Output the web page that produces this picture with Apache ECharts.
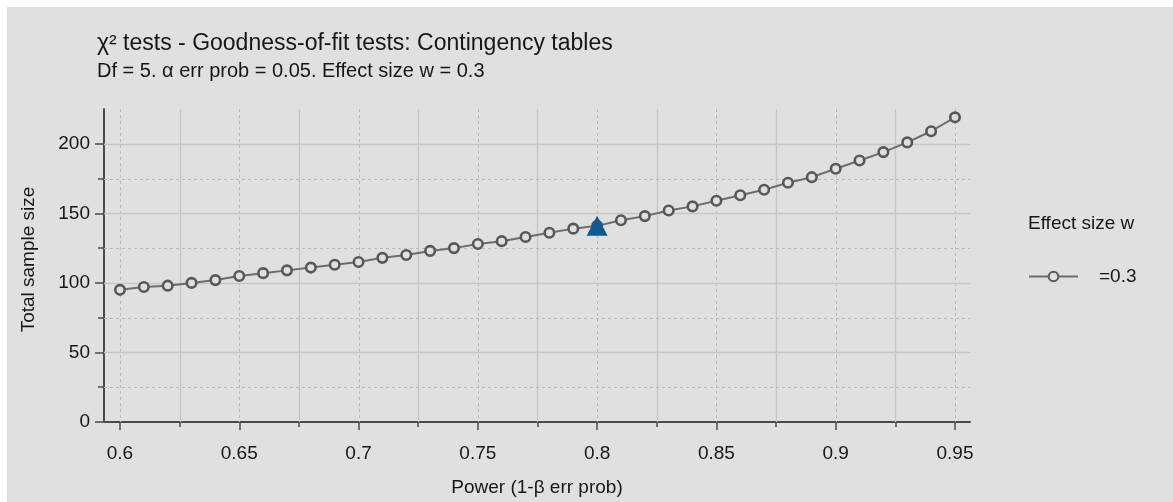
<!DOCTYPE html>
<html>
<head>
<meta charset="utf-8">
<script src="https://cdn.jsdelivr.net/npm/echarts@6/dist/echarts.min.js"></script>
<style>
  html, body { margin: 0; padding: 0; background: #ffffff; }
  #chart { position: absolute; left: 7px; top: 7px; width: 1166px; height: 495px; background: #e0e0e0; }
</style>
</head>
<body>
<div id="chart"></div>
<script>
// Power (1-β err prob) on the x axis, required total sample size on the y axis
const powerValues = [0.60, 0.61, 0.62, 0.63, 0.64, 0.65, 0.66, 0.67, 0.68, 0.69,
                     0.70, 0.71, 0.72, 0.73, 0.74, 0.75, 0.76, 0.77, 0.78, 0.79,
                     0.80, 0.81, 0.82, 0.83, 0.84, 0.85, 0.86, 0.87, 0.88, 0.89,
                     0.90, 0.91, 0.92, 0.93, 0.94, 0.95];
const sampleSizes = [95, 97, 98, 100, 102, 105, 107, 109, 111, 113,
                     115, 118, 120, 123, 125, 128, 130, 133, 136, 139,
                     141, 145, 148, 152, 155, 159, 163, 167, 172, 176,
                     182, 188, 194, 201, 209, 219];

// the selected design point
const selectedPower = [0.80];
const selectedSize = [141];

// axis ticks
const xMajorTicks = [0.6, 0.65, 0.7, 0.75, 0.8, 0.85, 0.9, 0.95];
const xMinorTicks = [0.625, 0.675, 0.725, 0.775, 0.825, 0.875, 0.925];
const yMajorTicks = [0, 50, 100, 150, 200];
const yMinorTicks = [25, 75, 125, 175];

const seriesName = '=0.3';
const legendTitle = 'Effect size w';
const chartTitle = 'χ² tests - Goodness-of-fit tests: Contingency tables';
const chartSubtitle = 'Df = 5. α err prob = 0.05. Effect size w = 0.3';

const FONT = 'Liberation Sans, Arial, sans-serif';
const TEXT_COLOR = '#161616';
const AXIS_COLOR = '#4a4a4a';
const GRID_SOLID = '#c6c6c6';
const GRID_DOTTED = '#b9b9b9';
const X_MIN = 0.5933, X_MAX = 0.9563;
const Y_MIN = 0, Y_MAX = 225;

const chart = echarts.init(document.getElementById('chart'), null, { renderer: 'canvas' });

// grid line items: [value, dotted?]
const verticalLines = xMajorTicks.map(v => [v, 1]).concat(xMinorTicks.map(v => [v, 0]));
const horizontalLines = yMajorTicks.filter(v => v > 0).map(v => [v, 0]).concat(yMinorTicks.map(v => [v, 1]));

function gridLineStyle(dotted) {
  return dotted
    ? { stroke: GRID_DOTTED, lineWidth: 1, lineDash: [3, 3] }
    : { stroke: GRID_SOLID, lineWidth: 1.3 };
}

const baseX = {
  type: 'value', position: 'bottom', min: X_MIN, max: X_MAX, splitLine: { show: false }
};
const baseY = {
  type: 'value', position: 'left', min: Y_MIN, max: Y_MAX, splitLine: { show: false }
};

chart.setOption({
  animation: false,
  textStyle: { fontFamily: FONT },
  title: [
    { text: chartTitle, left: 85, top: 20,
      textStyle: { fontFamily: FONT, fontSize: 23, fontWeight: 'normal', color: TEXT_COLOR } },
    { text: chartSubtitle, left: 85, top: 49,
      textStyle: { fontFamily: FONT, fontSize: 20, fontWeight: 'normal', color: TEXT_COLOR } },
    { text: legendTitle, left: 1016, top: 202,
      textStyle: { fontFamily: FONT, fontSize: 19, fontWeight: 'normal', color: TEXT_COLOR } }
  ],
  legend: {
    left: 1016, top: 255,
    itemWidth: 49, itemHeight: 12,
    data: [seriesName],
    textStyle: { fontFamily: FONT, fontSize: 19, color: TEXT_COLOR, padding: [0, 0, 0, 16] },
    selectedMode: false
  },
  grid: { left: 97, right: 203, top: 102, bottom: 75, containLabel: false },
  xAxis: [
    Object.assign({}, baseX, {
      name: 'Power (1-β err prob)',
      nameLocation: 'middle', nameGap: 56,
      nameTextStyle: { fontFamily: FONT, fontSize: 19, color: TEXT_COLOR },
      axisLine: { show: true, onZero: false, lineStyle: { color: AXIS_COLOR, width: 2 } },
      axisTick: { show: true, customValues: xMajorTicks, length: 8, lineStyle: { color: AXIS_COLOR, width: 1.5 } },
      axisLabel: { customValues: xMajorTicks, margin: 22, fontFamily: FONT, fontSize: 19, color: TEXT_COLOR,
        formatter: v => String(+v.toFixed(3)) }
    }),
    Object.assign({}, baseX, {
      axisLine: { show: false, onZero: false },
      axisTick: { show: true, customValues: xMinorTicks, length: 5, lineStyle: { color: AXIS_COLOR, width: 1.5 } },
      axisLabel: { show: false }
    })
  ],
  yAxis: [
    Object.assign({}, baseY, {
      name: 'Total sample size',
      nameLocation: 'middle', nameGap: 66, nameRotate: 90,
      nameTextStyle: { fontFamily: FONT, fontSize: 19, color: TEXT_COLOR, padding: [0, 0, 0, 12] },
      axisLine: { show: true, onZero: false, lineStyle: { color: AXIS_COLOR, width: 2 } },
      axisTick: { show: true, customValues: yMajorTicks, length: 9, lineStyle: { color: AXIS_COLOR, width: 1.5 } },
      axisLabel: { customValues: yMajorTicks, margin: 14, fontFamily: FONT, fontSize: 19, color: TEXT_COLOR }
    }),
    Object.assign({}, baseY, {
      axisLine: { show: false, onZero: false },
      axisTick: { show: true, customValues: yMinorTicks, length: 6, lineStyle: { color: AXIS_COLOR, width: 1.5 } },
      axisLabel: { show: false }
    })
  ],
  series: [
    {
      // vertical grid lines: dotted at major x ticks, solid at minor x ticks
      name: 'vgrid',
      type: 'custom',
      silent: true,
      z: 1,
      data: verticalLines,
      encode: { x: 0 },
      renderItem: (params, api) => {
        const cs = params.coordSys;
        const x = Math.round(api.coord([api.value(0), Y_MIN])[0]) + 0.5;
        return { type: 'line', shape: { x1: x, y1: cs.y, x2: x, y2: cs.y + cs.height },
                 style: gridLineStyle(api.value(1) === 1) };
      }
    },
    {
      // horizontal grid lines: solid at major y ticks, dotted at minor y ticks
      name: 'hgrid',
      type: 'custom',
      silent: true,
      z: 1,
      data: horizontalLines.map(d => [X_MIN, d[0], d[1]]),
      encode: { x: 0, y: 1 },
      renderItem: (params, api) => {
        const cs = params.coordSys;
        const y = Math.round(api.coord([X_MIN, api.value(1)])[1]) + 0.5;
        return { type: 'line', shape: { x1: cs.x, y1: y, x2: cs.x + cs.width, y2: y },
                 style: gridLineStyle(api.value(2) === 1) };
      }
    },
    {
      name: seriesName,
      type: 'line',
      z: 3,
      data: powerValues.map((p, i) => [p, sampleSizes[i]]),
      symbol: 'circle',
      symbolSize: 9.5,
      showSymbol: true,
      lineStyle: { color: '#6c6c6c', width: 2 },
      itemStyle: { color: '#e0e0e0', borderColor: '#585858', borderWidth: 2.6 }
    },
    {
      name: 'selected',
      type: 'scatter',
      z: 5,
      data: selectedPower.map((p, i) => [p, selectedSize[i]]),
      symbol: 'triangle',
      symbolSize: [21, 20],
      itemStyle: { color: '#0b5a92', opacity: 1 }
    }
  ]
});
</script>
</body>
</html>
